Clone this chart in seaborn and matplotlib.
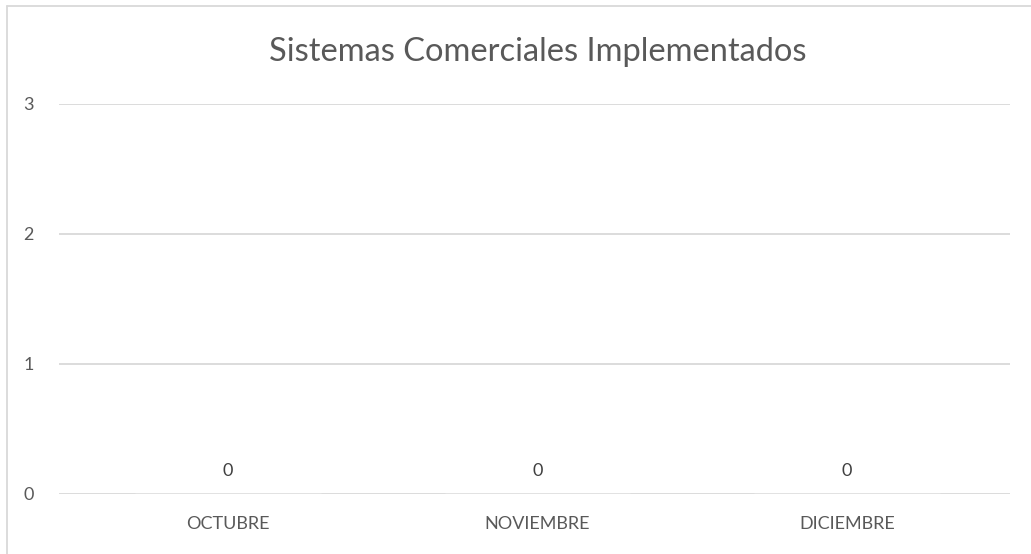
import matplotlib
matplotlib.use("Agg")
import matplotlib.pyplot as plt
import seaborn as sns
import pandas as pd
from matplotlib.lines import Line2D

categories = ["OCTUBRE", "NOVIEMBRE", "DICIEMBRE"]
values = [0, 0, 0]
yticks = [0, 1, 2, 3]
title = "Sistemas Comerciales Implementados"

sns.set_theme(style="white")
plt.rcParams['font.family'] = ['Lato', 'DejaVu Sans']

df = pd.DataFrame({"mes": categories, "valor": values})

W, H = 1031, 554
fig = plt.figure(figsize=(W / 100, H / 100), dpi=100)
ax = fig.add_axes([59 / W, 1 - 494 / H, (1010 - 59) / W, (494 - 104) / H])

sns.barplot(data=df, x="mes", y="valor", ax=ax, color="#4472C4", width=0.6)
ax.set_ylim(0, 3)
ax.set_yticks(yticks)
ax.set_yticklabels([str(t) for t in yticks])
ax.set_xlim(-0.546, 2.527)
ax.yaxis.grid(True, color="#d9d9d9", linewidth=1.3)
ax.set_axisbelow(True)
for s in ax.spines.values():
    s.set_visible(False)
ax.tick_params(axis="both", length=0, colors="#595959", labelsize=13)
ax.tick_params(axis="y", pad=18)
ax.tick_params(axis="x", pad=16)
ax.set_xlabel("")
ax.set_ylabel("")

for i, v in enumerate(values):
    ax.annotate(str(v), (i, v), xytext=(0, 11), textcoords="offset points",
                ha="center", va="bottom", fontsize=13, color="#404040")

fig.text(538 / W, 1 - 52 / H, title, ha="center", va="center", fontsize=23.5, color="#595959")

# chart border (left and top visible)
fig.add_artist(Line2D([6.5 / W, 6.5 / W], [0, 1 - 5.5 / H], transform=fig.transFigure, color="#d9d9d9", linewidth=1.3))
fig.add_artist(Line2D([6.5 / W, 1], [1 - 5.5 / H, 1 - 5.5 / H], transform=fig.transFigure, color="#d9d9d9", linewidth=1.3))

fig.savefig("out.png", dpi=100, facecolor="white")
